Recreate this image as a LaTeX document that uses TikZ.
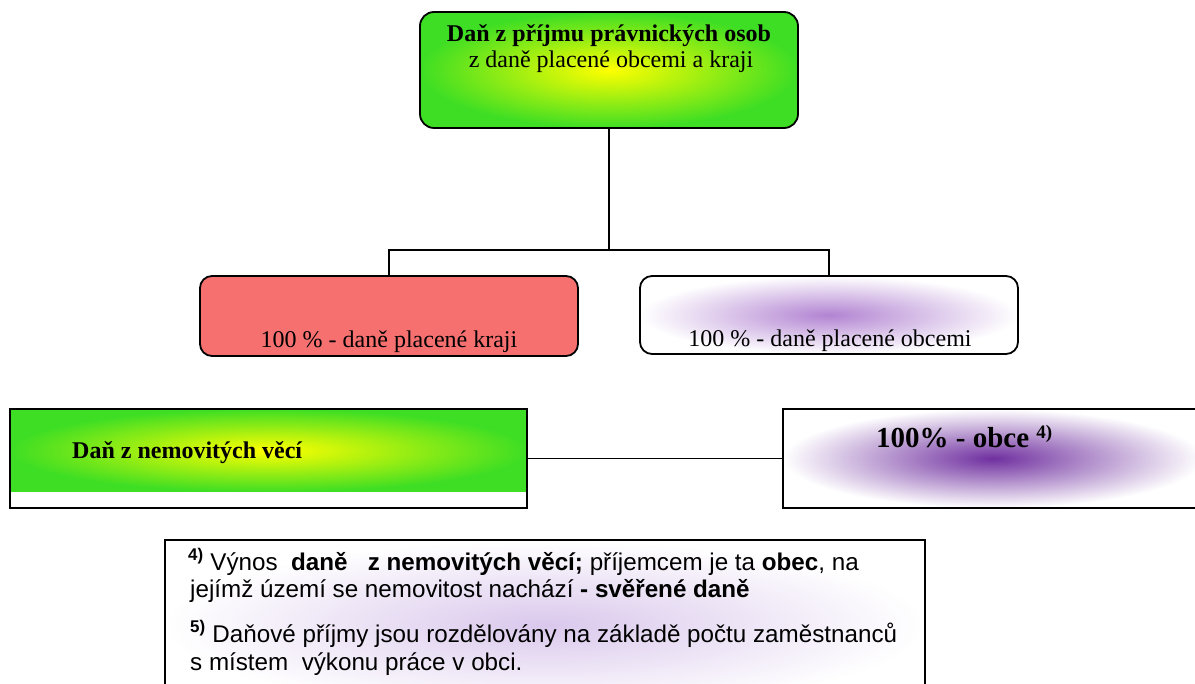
\documentclass[tikz,border=0pt]{standalone}
\usepackage{fontspec}
\setmainfont{Liberation Serif}
\setsansfont{Liberation Sans}
\definecolor{gGreen}{RGB}{62,222,36}
\definecolor{gYellow}{RGB}{255,255,0}
\definecolor{salmon}{RGB}{246,112,112}
\definecolor{violetC}{RGB}{112,48,160}
\definecolor{violetL}{RGB}{178,132,210}
\definecolor{violetF}{RGB}{218,200,236}
\begin{document}
\begin{tikzpicture}[x=1pt,y=-1pt,
  box/.style={draw=black, line width=1.8pt},
  conn/.style={draw=black, line width=2.8pt},
  thin/.style={draw=black, line width=1.2pt},
  txt/.style={inner sep=0pt, anchor=base},
  serif24/.style={font=\fontsize{24}{28}\selectfont},
  ltxt/.style={inner sep=0pt, anchor=base west, font=\sffamily\fontsize{24.2}{28}\selectfont}]
\useasboundingbox (0,0) rectangle (1195,684);
\fill[white] (0,0) rectangle (1195,684);

% top box
\node[box, rounded corners=14pt, inner color=gYellow, outer color=gGreen,
      minimum width=378pt, minimum height=116pt, inner sep=0pt] (top) at (609,70) {};
\node[txt, font=\bfseries\fontsize{24}{28}\selectfont] (t1) at (609,42) {Daň z příjmu právnických osob};
\node[txt, serif24] (t2) at (611,68) {z daně placené obcemi a kraji};

% second row
\node[box, rounded corners=12pt, fill=salmon,
      minimum width=378pt, minimum height=80pt, inner sep=0pt] (kraje) at (389,316) {};
\node[txt, serif24] (kt) at (389,348) {100 \% - daně placené kraji};
\node[box, rounded corners=12pt, inner color=violetL, outer color=white,
      minimum width=378pt, minimum height=78pt, inner sep=0pt] (obce) at (829,315) {};
\node[txt, serif24] (ot) at (830,347) {100 \% - daně placené obcemi};

% connectors
\coordinate (j) at (609,250);
\draw[conn] (top.south) -- (j);
\draw[conn] (j) -| (kraje.north);
\draw[conn] (j) -| (obce.north);

% third row
\shade[inner color=gYellow, outer color=gGreen] (10,409) rectangle (527,492);
\node[box, line width=1.6pt, minimum width=517pt, minimum height=99pt, inner sep=0pt] (nem) at (268.5,458.5) {};
\node[txt, anchor=base west, font=\bfseries\fontsize{24}{28}\selectfont] (nt) at (72,459) {Daň z nemovitých věcí};

\node[box, line width=1.6pt, inner color=violetC, outer color=white,
      minimum width=420pt, minimum height=99pt, inner sep=0pt] (obec) at (993,458.5) {};
\node[txt, anchor=base west, font=\bfseries\fontsize{29}{32}\selectfont] (ob) at (876,448) {100\% - obce \textsuperscript{\fontsize{19}{19}\selectfont 4)}};

\draw[thin] (nem.east) -- (obec.west);

% notes box
\node[box, line width=1.5pt, inner color=violetF, outer color=white,
      minimum width=760pt, minimum height=170pt, inner sep=0pt] (note) at (545,625) {};
\node[ltxt] (n1) at (188,570) {\textsuperscript{\bfseries 4)} Výnos\ \ \textbf{daně}\ \ \ \textbf{z nemovitých věcí;} příjemcem je ta \textbf{obec}, na};
\node[ltxt] (n2) at (190,597) {jejímž území se nemovitost nachází \textbf{- svěřené daně}};
\node[ltxt] (n3) at (190,642) {\textsuperscript{\bfseries 5)} Daňové příjmy jsou rozdělovány na základě počtu zaměstnanců};
\node[ltxt] (n4) at (190,670) {s místem\ \ výkonu práce v obci.};
\end{tikzpicture}
\end{document}
